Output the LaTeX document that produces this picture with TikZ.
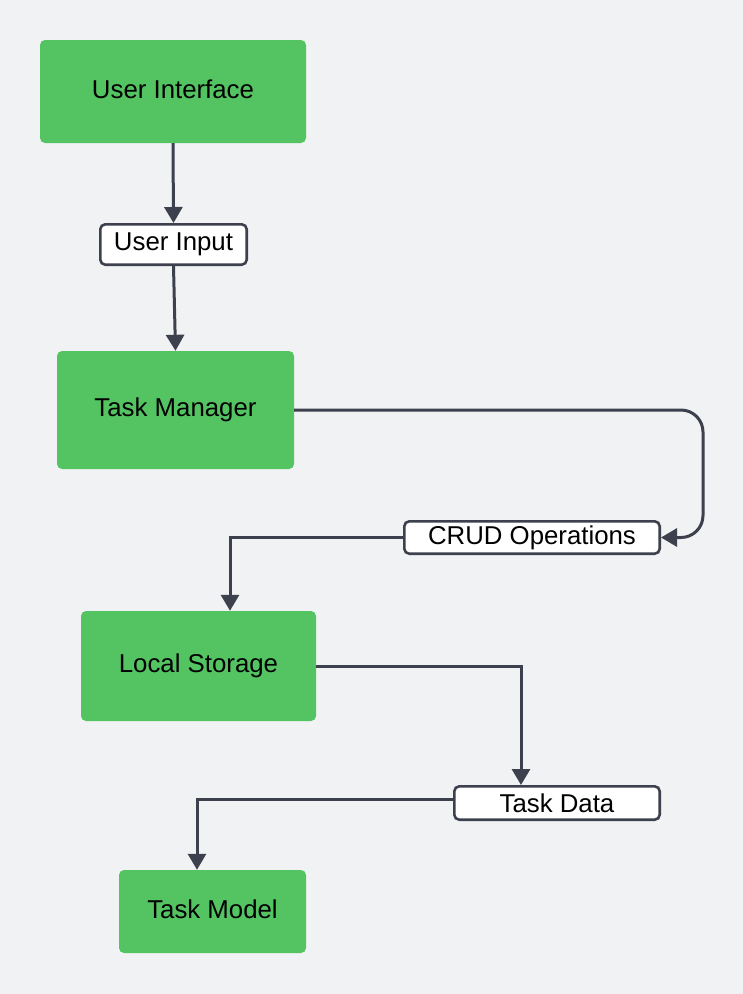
\documentclass[tikz,border=0pt]{standalone}
\usepackage{fontspec}
\setmainfont{Liberation Sans}
\usetikzlibrary{arrows.meta}
\definecolor{bg}{RGB}{241,242,244}
\definecolor{boxgreen}{RGB}{84,196,98}
\definecolor{linec}{RGB}{61,65,77}
\tikzset{
  greenbox/.style={fill=boxgreen, rounded corners=5pt, inner sep=0pt, text height=18.5pt, text depth=5pt, font=\fontsize{25.8}{30}\selectfont},
  labelbox/.style={fill=white, draw=linec, line width=2.6pt, rounded corners=5pt, inner sep=0pt, font=\fontsize{25.8}{30}\selectfont},
  conn/.style={draw=linec, line width=3pt, -{Triangle[length=16pt,width=18pt]}},
}
\begin{document}
\begin{tikzpicture}[x=1pt,y=-1pt]
\fill[bg] (0,0) rectangle (743,994);
\useasboundingbox (0,0) rectangle (743,994);
\node[greenbox, minimum width=266pt, minimum height=103pt] (ui) at (173,91.5) {User Interface};
\node[labelbox, minimum width=146.4pt, minimum height=40.4pt] (uin) at (173.5,244.5) {User Input};
\node[greenbox, minimum width=237pt, minimum height=118pt] (tm) at (175.5,410) {Task Manager};
\node[labelbox, minimum width=255.4pt, minimum height=32.4pt] (crud) at (532,537.5) {CRUD Operations};
\node[greenbox, minimum width=235pt, minimum height=110pt] (ls) at (198.5,666) {Local Storage};
\node[labelbox, minimum width=205.4pt, minimum height=33.4pt] (td) at (557,803) {Task Data};
\node[greenbox, minimum width=187pt, minimum height=83pt] (tmod) at (212.5,911.5) {Task Model};
\coordinate (c1) at (703,410);
\coordinate (c2) at (703,537.5);
\draw[conn] (ui.south) -- (uin.north);
\draw[conn] (uin.south) -- (tm.north);
\draw[conn, rounded corners=22pt] (tm.east) -- (c1) -- (c2) -- (crud.east);
\draw[conn] (crud.west) -| ([xshift=31.5pt]ls.north);
\draw[conn] (ls.east) -| ([xshift=-36pt]td.north);
\draw[conn] ([yshift=4pt]td.west) -| ([xshift=-15.5pt]tmod.north);
\end{tikzpicture}
\end{document}
